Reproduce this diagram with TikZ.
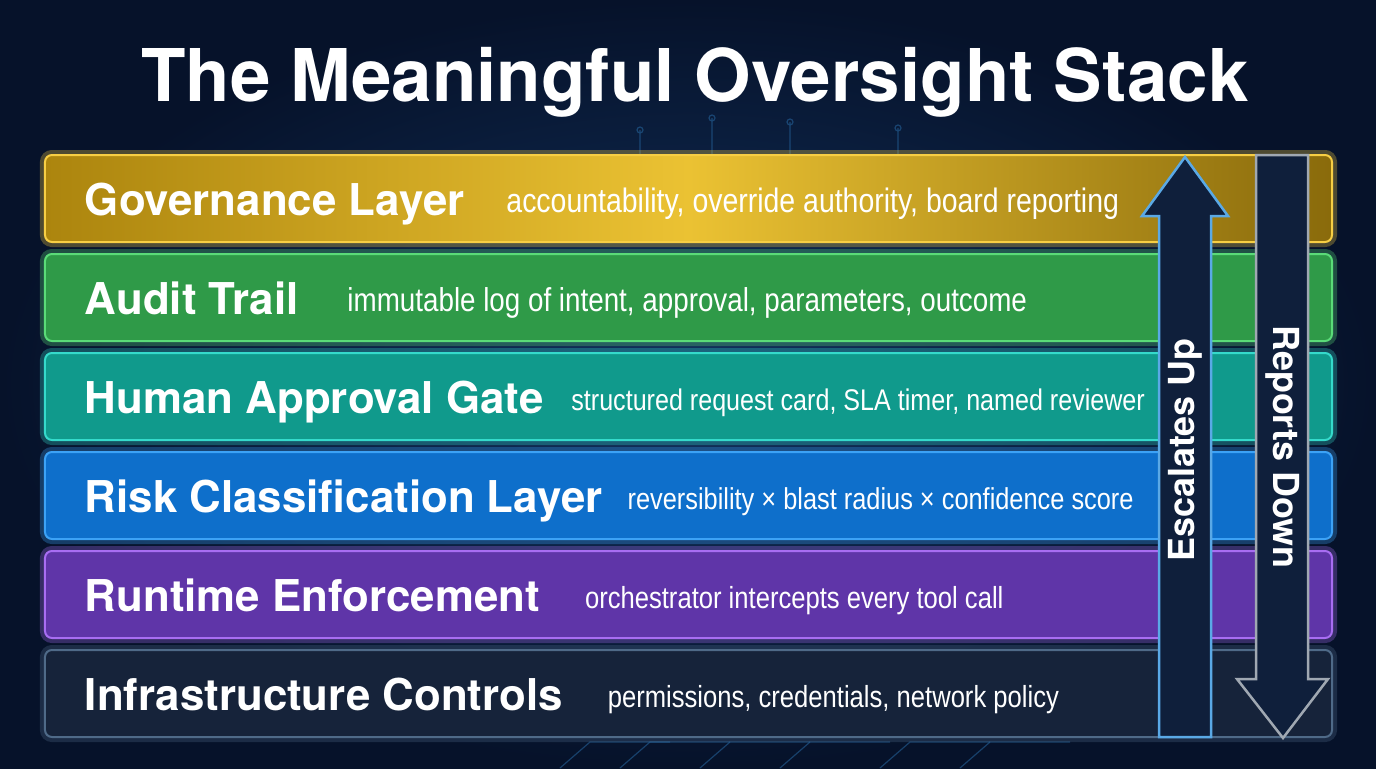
\documentclass[tikz,border=0pt]{standalone}
\usepackage{fontspec}
\setmainfont{TeX Gyre Heros}
\newfontfamily\descfont[FakeStretch=0.84]{Liberation Sans}
\usetikzlibrary{positioning}

\definecolor{bgdark}{HTML}{06122A}
\definecolor{bgmid}{HTML}{12325E}
\definecolor{circuit}{HTML}{2D78B8}
\definecolor{govfill}{HTML}{AC850E}
\definecolor{govlight}{HTML}{EBC233}
\definecolor{govline}{HTML}{F7CE44}
\definecolor{audfill}{HTML}{2F9A48}
\definecolor{audline}{HTML}{5ADB78}
\definecolor{humfill}{HTML}{109A8C}
\definecolor{humline}{HTML}{35DACB}
\definecolor{riskfill}{HTML}{0E6FCB}
\definecolor{riskline}{HTML}{3CA2F6}
\definecolor{runfill}{HTML}{5F35A8}
\definecolor{runline}{HTML}{A86DF2}
\definecolor{infrafill}{HTML}{16233A}
\definecolor{infraline}{HTML}{4F6A88}
\definecolor{arrowfill}{HTML}{0F1F3B}
\definecolor{upline}{HTML}{5AA9E6}
\definecolor{downline}{HTML}{A0A8B2}

\tikzset{
  layer/.style 2 args={rounded corners=7bp, minimum width=1287bp, minimum height=87bp,
    text width=1207bp, inner xsep=40bp, inner ysep=0pt, outer sep=0pt, align=left,
    text height=38bp, text depth=5bp, text=white, fill=#1, draw=#2, line width=2bp,
    preaction={draw=#2, line width=10bp, draw opacity=0.3}},
  arrowbody/.style={fill=arrowfill, line width=2.5bp, line join=miter},
  arrowtext/.style={text=white, font=\bfseries\fontsize{36}{40}\selectfont, inner sep=0pt}
}
% title, gap, description; optional size of the description
\newcommand\lyr[4][34]{\spaceskip=0pt\xspaceskip=0pt
  {\bfseries\fontsize{44}{50}\selectfont #2}\hspace*{#3}%
  \raisebox{3bp}{\descfont\fontsize{#1}{40}\selectfont #4}}

\begin{document}
\begin{tikzpicture}[x=1bp,y=-1bp]
  % background
  \useasboundingbox (0,0) rectangle (1376,768);
  \shade[inner color=bgmid, outer color=bgdark] (0,0) rectangle (1376,768);
  \begin{scope}[draw=circuit, draw opacity=0.45, line width=1.2bp]
    \foreach \x/\y in {640/130, 712/118, 790/122, 898/128}
      \draw (\x,155) -- (\x,\y) circle (3bp);
    \foreach \x in {560, 620, 700, 780, 880, 960}
      \draw (\x,768) -- (\x+30,742) -- (\x+110,742);
  \end{scope}

  \node[text=white, font=\bfseries\fontsize{73}{80}\selectfont, anchor=base] (title)
    at (695,101) {The Meaningful Oversight Stack};

  % the stack
  \node[layer={govfill}{govline}, left color=govfill, right color=govfill!80!black,
        middle color=govlight] (gov) at (688.5,198.5)
    {\lyr{Governance Layer}{42bp}{accountability, override authority, board reporting}};
  \node[layer={audfill}{audline}, below=12bp of gov] (audit)
    {\lyr[33.2]{Audit Trail}{49bp}{immutable log of intent, approval, parameters, outcome}};
  \node[layer={humfill}{humline}, below=12bp of audit] (human)
    {\lyr[30]{Human Approval Gate}{28bp}{structured request card, SLA timer, named reviewer}};
  \node[layer={riskfill}{riskline}, below=12bp of human] (risk)
    {\lyr[30.3]{Risk Classification Layer}{25bp}{reversibility × blast radius × confidence score}};
  \node[layer={runfill}{runline}, below=12bp of risk] (runtime)
    {\lyr[30.6]{Runtime Enforcement}{45bp}{orchestrator intercepts every tool call}};
  \node[layer={infrafill}{infraline}, below=12bp of runtime] (infra)
    {\lyr[30.6]{Infrastructure Controls}{45bp}{permissions, credentials, network policy}};

  % escalation and reporting arrows
  \draw[arrowbody, draw=upline] (1159,737) -- (1159,216) -- (1142,216) -- (1185,157)
    -- (1228,216) -- (1211,216) -- (1211,737) -- cycle;
  \draw[arrowbody, draw=downline] (1256,155) -- (1256,679) -- (1237,679) -- (1283,738)
    -- (1328,679) -- (1308,679) -- (1308,155) -- cycle;
  \node[arrowtext, rotate=90] (up) at (1185,450) {Escalates Up};
  \node[arrowtext, rotate=-90] (down) at (1283,447) {Reports Down};
\end{tikzpicture}
\end{document}
